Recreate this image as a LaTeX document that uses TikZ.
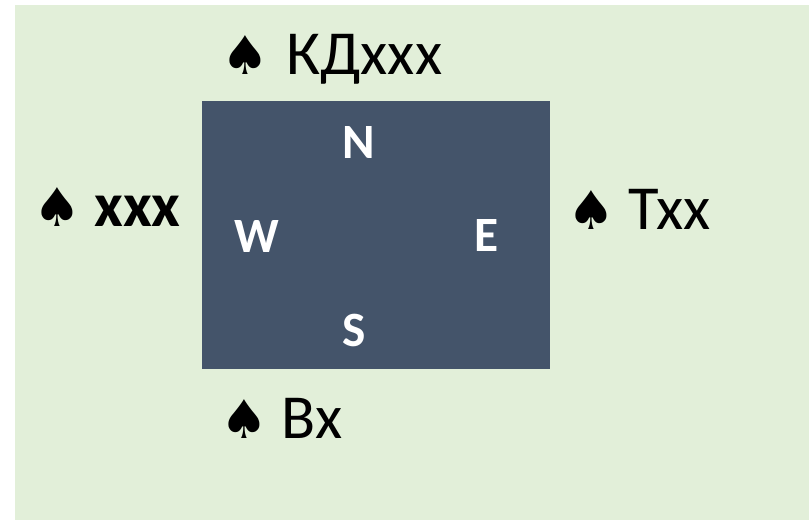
\documentclass[tikz,border=0pt]{standalone}
\usepackage{fontspec}
\setmainfont{Carlito}
\newfontfamily\symfont{DejaVu Sans}
\definecolor{bggreen}{HTML}{E2EFD9}
\definecolor{board}{HTML}{44546A}
\tikzset{
  hand/.style={anchor=base west, inner sep=0pt, font=\fontsize{47}{50}\selectfont, text=black},
  seat/.style={anchor=center, inner sep=0pt, font=\fontsize{37}{40}\selectfont\bfseries, text=white},
}
\newcommand{\spd}{{\symfont\fontsize{40}{44}\selectfont ♠}}
\begin{document}
\begin{tikzpicture}[x=0.75pt,y=-0.75pt]
\useasboundingbox (0,0) rectangle (809,520);
\fill[white] (0,0) rectangle (809,520);
\fill[bggreen] (15,5) rectangle (809,520);
\node[fill=board, inner sep=0pt, minimum width=261pt, minimum height=201pt, anchor=north west] (table) at (202,101) {};
\node[seat] (N) at (359,143) {N};
\node[seat] (W) at (257,237) {W};
\node[seat] (E) at (487,236) {E};
\node[seat] (S) at (354,330) {S};
\node[hand] (north) at (221,75) {\spd\hspace{13pt}КДxxx};
\node[hand] (west) at (33,227) {\spd\hspace{10pt}\textbf{xxx}};
\node[hand] (east) at (567,229) {\spd\hspace{10pt}Txx};
\node[hand] (south) at (220,438) {\spd\hspace{10pt}Bx};
\end{tikzpicture}
\end{document}
